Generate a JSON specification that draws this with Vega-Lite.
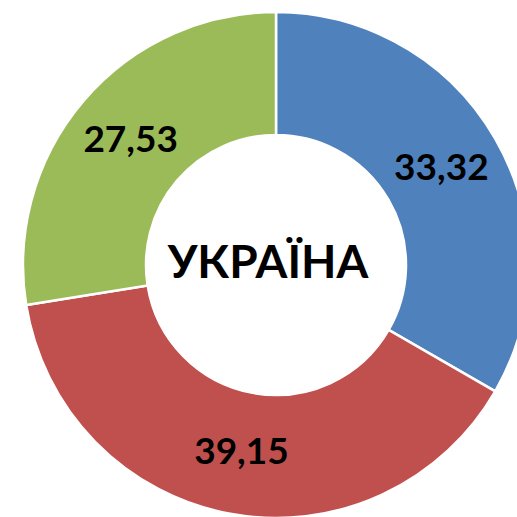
{
  "$schema": "https://vega.github.io/schema/vega-lite/v6.json",
  "autosize": {"type": "none"},
  "width": 482,
  "height": 506,
  "padding": {"left": 35, "top": 12, "right": 0, "bottom": 0},
  "background": "white",
  "config": {"view": {"stroke": null}},
  "layer": [
    {
      "data": {"values": [
        {"region": "A", "value": 33.32, "label": "33,32", "order": 1},
        {"region": "B", "value": 39.15, "label": "39,15", "order": 2},
        {"region": "C", "value": 27.53, "label": "27,53", "order": 3}
      ]},
      "layer": [
        {
          "mark": {"type": "arc", "radius": 253, "radius2": 130, "stroke": "white", "strokeWidth": 2.5},
          "encoding": {
            "theta": {"field": "value", "type": "quantitative", "stack": true},
            "order": {"field": "order", "type": "quantitative"},
            "color": {"field": "region", "type": "nominal", "legend": null,
              "scale": {"domain": ["A", "B", "C"], "range": ["#4F81BD", "#C0504D", "#9BBB59"]}}
          }
        },
        {
          "mark": {"type": "text", "radius": 191, "font": "Lato", "fontWeight": "bold", "fontSize": 37, "color": "black", "align": "center", "baseline": "middle"},
          "encoding": {
            "theta": {"field": "value", "type": "quantitative", "stack": true},
            "order": {"field": "order", "type": "quantitative"},
            "text": {"field": "label", "type": "nominal"}
          }
        }
      ]
    },
    {
      "data": {"values": [{"title": "УКРАЇНА"}]},
      "mark": {"type": "text", "font": "Lato", "fontWeight": "bold", "fontSize": 46, "color": "black", "align": "center", "baseline": "middle", "dx": -8, "dy": -1},
      "encoding": {"text": {"field": "title", "type": "nominal"}}
    }
  ]
}
